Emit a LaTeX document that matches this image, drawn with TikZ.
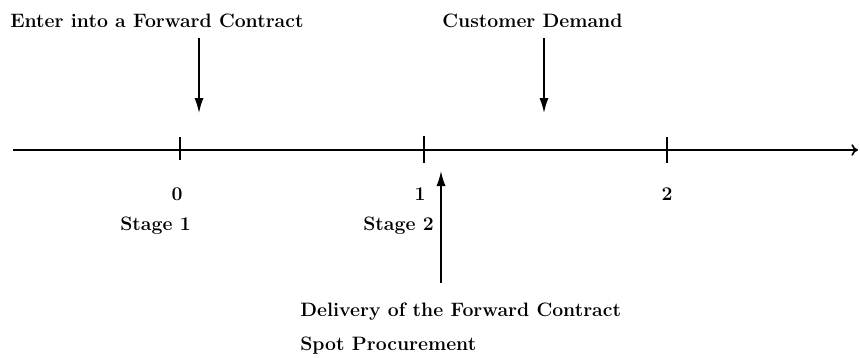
\documentclass[tikz,border=0pt]{standalone}
\usetikzlibrary{arrows.meta}
\begin{document}
\begin{tikzpicture}[x=0.6pt,y=-0.6pt,
  lbl/.style={anchor=base west,inner sep=0pt,font=\fontsize{11.65}{13}\selectfont\bfseries},
  num/.style={anchor=base,inner sep=0pt,font=\fontsize{11.65}{13}\selectfont\bfseries},
  event/.style={line width=1pt,-{Latex[length=9pt,width=5.5pt]}},
  axisline/.style={line width=1pt,-{To[length=4pt,width=7pt]}},
  tickmark/.style={line width=1pt}]
\useasboundingbox (0,0) rectangle (860,358);
% time axis
\coordinate (axstart) at (13,150);
\coordinate (axend) at (858,150);
\draw[axisline] (axstart) -- (axend);
% ticks
\coordinate (t0a) at (180,137); \coordinate (t0b) at (180,160);
\coordinate (t1a) at (424,136); \coordinate (t1b) at (424,163);
\coordinate (t2a) at (667,137); \coordinate (t2b) at (667,163);
\draw[tickmark] (t0a) -- (t0b);
\draw[tickmark] (t1a) -- (t1b);
\draw[tickmark] (t2a) -- (t2b);
% tick labels
\node[num] (n0) at (177,200) {0};
\node[num] (n1) at (420,200) {1};
\node[num] (n2) at (667,200) {2};
\node[lbl] (s1) at (120,230) {Stage 1};
\node[lbl] (s2) at (363,230) {Stage 2};
% events
\node[lbl] (fwd) at (10,27) {Enter into a Forward Contract};
\node[lbl] (dem) at (442,27) {Customer Demand};
\node[lbl] (del) at (300,316) {Delivery of the Forward Contract};
\node[lbl] (spot) at (300,350) {Spot Procurement};
\coordinate (fa) at (199,38); \coordinate (fb) at (199,113);
\coordinate (da) at (544,38); \coordinate (db) at (544,113);
\coordinate (ua) at (441,283); \coordinate (ub) at (441,171);
\draw[event] (fa) -- (fb);
\draw[event] (da) -- (db);
\draw[event] (ua) -- (ub);
\end{tikzpicture}
\end{document}
